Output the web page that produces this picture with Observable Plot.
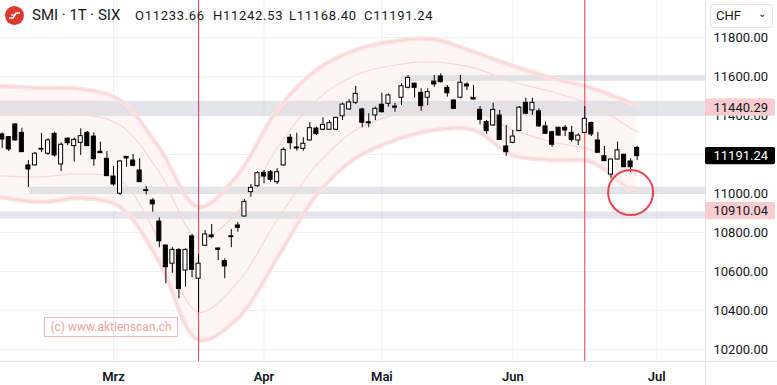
<!DOCTYPE html>
<html><head><meta charset="utf-8">
<script src="https://cdn.jsdelivr.net/npm/d3@7"></script>
<script src="https://cdn.jsdelivr.net/npm/@observablehq/plot@0.6"></script>
<style>
body{margin:0;background:#fff;font-family:Roboto,"Liberation Sans",sans-serif;color:#131722;}
#wrap{position:relative;width:777px;height:385px;overflow:hidden;}
#wrap svg{position:absolute;left:0;top:0;}
.ov{position:absolute;white-space:nowrap;}
#logo{left:5px;top:6px;width:19px;height:19px;border-radius:50%;background:#e0392e;}
#title{left:32px;top:6px;font-size:15px;line-height:19px;}
.ohlc{top:8px;font-size:13px;line-height:16px;letter-spacing:0.7px;}
#chf{left:710px;top:4px;width:61px;height:22px;border:1px solid #e0e3eb;border-radius:4px;font-size:13px;line-height:22px;background:#fff;}
#chf span{position:absolute;left:5px;top:0;}
#chf i{position:absolute;right:6px;top:-2px;font-style:normal;font-size:10px;}
#wm{left:44px;top:317px;width:132px;height:18px;border:1px solid #f7baba;color:#f3a3a3;font-size:12px;line-height:18px;text-align:center;}
</style></head><body>
<div id="wrap"></div>
<script>
// ---- candles (trading-day index 0..97) ----
const opens  = [11303,11289,11354,11311,11144,11144,11225,11204,11306,11149,11281,11243,11260,11311,11292,11214,11178,11087,10999,11188,
11169,11118,11017,10964,10856,10733,10640,10711,10605,10780,10563,10732,10785,10718,10653,10776,10836,10882,11007,11037,
11106,11109,11058,11144,11286,11236,11229,11272,11333,11327,11327,11327,11396,11431,11465,11431,11365,11400,11455,11460,
11446,11491,11542,11563,11516,11491,11574,11600,11542,11477,11491,11559,11491,11429,11366,11349,11400,11241,11260,11320,
11465,11426,11421,11344,11314,11337,11337,11311,11272,11311,11361,11272,11191,11097,11174,11199,11164,11233.66];
const highs  = [11310,11292,11359,11335,11169,11209,11308,11281,11314,11260,11286,11284,11332,11318,11311,11263,11215,11139,11169,11190,
11200,11178,11036,10973,10875,10735,10722,10716,10716,10790,10687,10810,10841,10721,10665,10815,10851,10969,11046,11113,
11118,11118,11127,11234,11303,11309,11286,11364,11340,11388,11374,11391,11463,11481,11549,11437,11409,11443,11514,11511,
11463,11563,11605,11566,11537,11537,11605,11614,11554,11480,11605,11568,11554,11446,11374,11463,11426,11349,11323,11446,
11489,11489,11434,11366,11320,11340,11349,11344,11306,11446,11366,11314,11241,11176,11263,11200,11178,11242.53];
const lows   = [11231,11215,11267,11210,11031,11142,11210,11195,11186,11113,11246,11161,11195,11241,11140,11205,11087,11036,10990,11135,
11137,11056,10993,10904,10722,10537,10591,10460,10520,10568,10391,10730,10768,10656,10563,10722,10802,10879,10981,11032,
11050,11058,11046,11140,11224,11217,11217,11268,11297,11323,11323,11323,11374,11426,11456,11337,11337,11374,11412,11443,
11417,11451,11537,11489,11422,11451,11545,11566,11494,11432,11486,11528,11480,11352,11303,11345,11273,11191,11255,11318,
11405,11400,11340,11303,11237,11295,11292,11263,11246,11309,11292,11207,11164,11075,11172,11133,11109,11168.40];
const closes = [11277,11226,11272,11212,11123,11204,11229,11272,11195,11250,11258,11275,11294,11243,11176,11207,11089,11046,11164,11180,
11142,11058,11013,10944,10755,10622,10711,10511,10711,10609,10640,10790,10776,10711,10626,10781,10824,10957,11029,11104,
11087,11070,11109,11224,11258,11231,11255,11335,11306,11352,11361,11388,11456,11467,11511,11363,11360,11434,11417,11503,
11440,11550,11593,11542,11448,11520,11559,11571,11514,11434,11568,11549,11482,11378,11320,11429,11275,11212,11292,11440,
11409,11465,11344,11306,11250,11297,11323,11275,11297,11383,11303,11209,11166,11174,11221,11135,11135,11191.24];

// ---- envelope bands (read at sample indices) ----
const envIdx      = [-0.3,6,12,18,24,30,36,42,48,54,60,66,72,78,84,90,96,97];
const outerUpper  = [11551,11541,11536,11479,11233,10931,11095,11428,11633,11736,11782,11790,11726,11654,11592,11541,11464,11449];
const innerUpper  = [11413,11408,11408,11351,11110,10772,10905,11233,11479,11608,11659,11674,11644,11572,11521,11454,11336,11315];
const innerLower  = [11090,11085,11100,11069,10762,10392,10546,10864,11146,11326,11403,11438,11428,11326,11264,11223,11110,11090];
const outerLower  = [10982,10956,10977,10931,10649,10250,10362,10669,10992,11182,11274,11326,11326,11197,11172,11162,11018,11008];

// ---- horizontal zones ----
const zoneLow   = [11575,11395,10995,10868];
const zoneHigh  = [11605,11472,11033,10905];
const zoneStart = [61,null,4.2,null];

// ---- axes / annotations ----
const monthTicks  = [17,40,58,78,100];
const monthLabels = ["Mrz","Apr","Mai","Jun","Jul"];
const priceTicks  = [10200,10400,10600,10800,11000,11200,11400,11600,11800];
const hiddenTicks = [11200];
const markerIdx   = [30,89];
const circleAt    = {i:96, v:11005};
const priceLabels = [11440.29,11191.24,10910.04];
const labelKinds  = ["zone","last","zone"];
const ohlcNames   = ["O","H","L","C"];
const ohlcValues  = ["11233.66","11242.53","11168.40","11191.24"];

const candles = opens.map((o,i)=>({i,o,h:highs[i],l:lows[i],c:closes[i]}));
const env = envIdx.map((i,k)=>({i,ou:outerUpper[k],iu:innerUpper[k],il:innerLower[k],ol:outerLower[k]}));
const xDomain=[-0.26,107.44];
const yDomain=[10138.5,11989.7];
const W=777,H=385,mR=72,mB=24;
const plotW=W-mR, plotH=H-mB;
const ptPerPx=(yDomain[1]-yDomain[0])/plotH;
const idxPerPx=(xDomain[1]-xDomain[0])/plotW;
const xEdge=xDomain[1]+70*idxPerPx;
const zones=zoneLow.map((lo,k)=>({lo,hi:zoneHigh[k],x1:zoneStart[k]??xDomain[0]}));
const labels=priceLabels.map((v,k)=>({v,kind:labelKinds[k]}));
const axisTicks=priceTicks.filter(t=>!hiddenTicks.includes(t));

const chart=Plot.plot({
  width:W,height:H,marginLeft:0,marginRight:mR,marginTop:0,marginBottom:mB,
  style:{fontFamily:"Roboto, sans-serif",fontSize:"13px",color:"#131722",background:"transparent"},
  x:{domain:xDomain},
  y:{domain:yDomain},
  marks:[
    Plot.gridY(priceTicks,{stroke:"#eff1f5",strokeOpacity:1}),
    Plot.gridX(monthTicks,{stroke:"#eff1f5",strokeOpacity:1}),
    Plot.areaY(env,{x:"i",y1:"ol",y2:"ou",fill:"#fef5f5",curve:"catmull-rom",clip:true}),
    Plot.rect(zones,{x1:"x1",x2:xDomain[1],y1:"lo",y2:"hi",fill:"#d1d4dc",fillOpacity:0.6,clip:true}),
    Plot.lineY(env,{x:"i",y:"ou",stroke:"#fde2e2",strokeWidth:4.5,curve:"catmull-rom",clip:true}),
    Plot.lineY(env,{x:"i",y:"ol",stroke:"#fde2e2",strokeWidth:4.5,curve:"catmull-rom",clip:true}),
    Plot.lineY(env,{x:"i",y:"ou",stroke:"#fad2d2",strokeWidth:1,curve:"catmull-rom",clip:true}),
    Plot.lineY(env,{x:"i",y:"ol",stroke:"#fad2d2",strokeWidth:1,curve:"catmull-rom",clip:true}),
    Plot.lineY(env,{x:"i",y:"iu",stroke:"#fbd6d6",strokeWidth:1.2,curve:"catmull-rom",clip:true}),
    Plot.lineY(env,{x:"i",y:"il",stroke:"#fbd6d6",strokeWidth:1.2,curve:"catmull-rom",clip:true}),
    Plot.ruleX(markerIdx,{stroke:"#f23645",strokeWidth:1}),
    Plot.ruleX(candles,{x:"i",y1:"l",y2:"h",stroke:"#000",strokeWidth:1}),
    Plot.rect(candles,{x1:d=>d.i-0.31,x2:d=>d.i+0.31,y1:d=>Math.min(d.o,d.c),y2:d=>Math.max(d.o,d.c),
      fill:d=>d.c>=d.o?"#fff":"#000",stroke:"#000",strokeWidth:1}),
    Plot.dot([circleAt],{x:"i",y:"v",r:22.5,stroke:"#f0404e",strokeWidth:2,fill:"none"}),
    Plot.ruleX([xDomain[1]],{stroke:"#e0e3eb",insetBottom:-mB}),
    Plot.ruleY([yDomain[0]],{stroke:"#e0e3eb",insetRight:-mR}),
    Plot.axisY({anchor:"right",ticks:axisTicks,tickFormat:d=>d.toFixed(2),tickSize:0,tickPadding:8,label:null,fontSize:13}),
    Plot.axisX({anchor:"bottom",ticks:monthTicks,tickFormat:d=>monthLabels[monthTicks.indexOf(d)],tickSize:0,tickPadding:10,label:null,fontSize:13,fontWeight:600}),
    Plot.rect(labels,{x1:xDomain[1],x2:xEdge,y1:d=>d.v-8.6*ptPerPx,y2:d=>d.v+8.6*ptPerPx,
      fill:d=>d.kind==="last"?"#000":"#f9cdd0",rx:2,clip:false}),
    Plot.text(labels,{x:xDomain[1],y:"v",text:d=>d.v.toFixed(2),dx:8,textAnchor:"start",
      fill:d=>d.kind==="last"?"#fff":"#131722",fontSize:13,clip:false})
  ]
});
const wrap=document.getElementById("wrap");
wrap.appendChild(chart);
const add=(html)=>{wrap.insertAdjacentHTML("beforeend",html);};
add('<div class="ov" id="logo"><svg width="19" height="19" viewBox="0 0 19 19"><path d="M4 12 H8 L11 7 H15" stroke="#fff" stroke-width="1.6" fill="none"/><path d="M6 9 H9" stroke="#fff" stroke-width="1.2"/></svg></div>');
add('<div class="ov" id="title">SMI · 1T · SIX</div>');
const ohlcX=[135,213,289,364];
ohlcNames.forEach((n,k)=>add(`<div class="ov ohlc" style="left:${ohlcX[k]}px">${n}${ohlcValues[k]}</div>`));
add('<div class="ov" id="chf"><span>CHF</span><i>&#8964;</i></div>');
add('<div class="ov" id="wm">(c) www.aktienscan.ch</div>');
</script>
</body></html>
